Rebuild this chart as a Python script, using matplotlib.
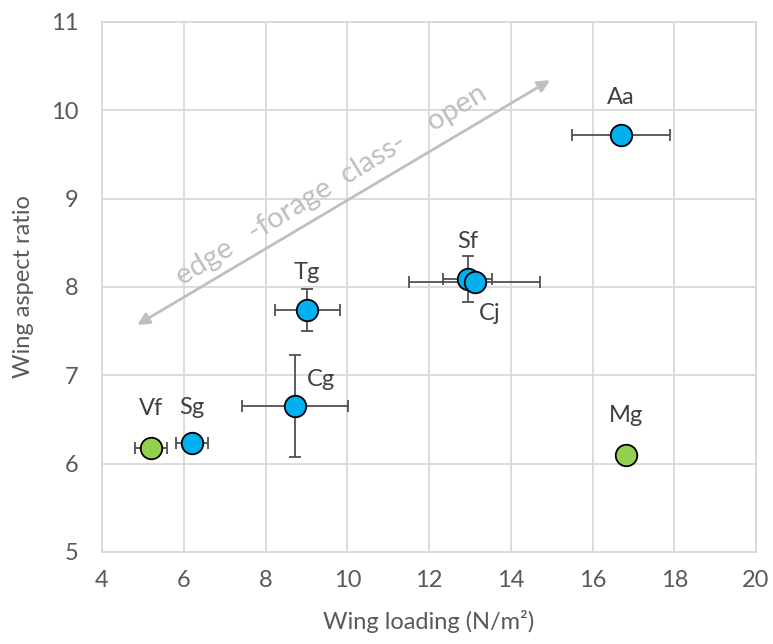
import numpy as np
import matplotlib.pyplot as plt

plt.rcParams['font.family'] = ['Lato', 'DejaVu Sans']

# species data
species = ['Aa', 'Sf', 'Cj', 'Tg', 'Cg', 'Sg', 'Vf', 'Mg']
loading = [16.70, 12.95, 13.12, 9.02, 8.72, 6.20, 5.20, 16.82]
aspect = [9.72, 8.09, 8.05, 7.74, 6.65, 6.23, 6.18, 6.10]
load_err = [1.2, 0.6, 1.6, 0.8, 1.3, 0.4, 0.4, 0.0]
aspect_err = [0.0, 0.26, 0.0, 0.24, 0.58, 0.0, 0.0, 0.0]
group = ['b', 'b', 'b', 'b', 'b', 'b', 'g', 'g']

label_pos = {'Aa': (0, 27), 'Sf': (0, 27), 'Cj': (11, -22), 'Tg': (0, 27),
             'Cg': (19, 19), 'Sg': (0, 26), 'Vf': (0, 28), 'Mg': (0, 28)}

colors = {'b': '#00B0F0', 'g': '#92D050'}
txt = '#595959'
fs = 17

fig = plt.figure(figsize=(7.73, 6.44), dpi=100)
ax = fig.add_axes([0.132, 0.143, 0.846, 0.823])

for i, s in enumerate(species):
    xe = load_err[i] if load_err[i] > 0 else None
    ye = aspect_err[i] if aspect_err[i] > 0 else None
    ax.errorbar(loading[i], aspect[i], xerr=xe, yerr=ye, fmt='none',
                ecolor='#505050', elinewidth=1.3, capsize=4, capthick=1.3,
                zorder=3)

for i, s in enumerate(species):
    ax.plot(loading[i], aspect[i], 'o', ms=15.5, mfc=colors[group[i]],
            mec='black', mew=1.3, zorder=4)
    dx, dy = label_pos[s]
    ax.annotate(s, (loading[i], aspect[i]), xytext=(dx, dy),
                textcoords='offset points', ha='center', va='center',
                fontsize=fs, color='#404040', zorder=5)

# forage class arrow
ax.annotate('', xy=(14.96, 10.34), xytext=(4.86, 7.57),
            arrowprops=dict(arrowstyle='<|-|>', color='#BFBFBF', lw=2,
                            mutation_scale=18, shrinkA=0, shrinkB=0),
            zorder=2)
ax.text(9.6, 9.15, 'edge   -forage  class-    open', rotation=31.5,
        rotation_mode='anchor', ha='center', va='center', fontsize=21,
        color='#BFBFBF', zorder=2)

ax.set_xlim(4, 20)
ax.set_ylim(5, 11)
ax.set_xticks(np.arange(4, 21, 2))
ax.set_yticks(np.arange(5, 12, 1))
ax.grid(True, color='#D9D9D9', lw=1.3)
ax.set_axisbelow(True)
for sp in ax.spines.values():
    sp.set_color('#D9D9D9')
    sp.set_linewidth(1.3)
ax.tick_params(axis='x', length=0, labelsize=fs, colors=txt, pad=13)
ax.tick_params(axis='y', length=0, labelsize=fs, colors=txt, pad=17)

ax.set_xlabel('Wing loading (N/m²)', fontsize=fs, color=txt, labelpad=14)
ax.set_ylabel('Wing aspect ratio', fontsize=fs, color=txt, labelpad=12)

fig.savefig('out.png', dpi=100)
